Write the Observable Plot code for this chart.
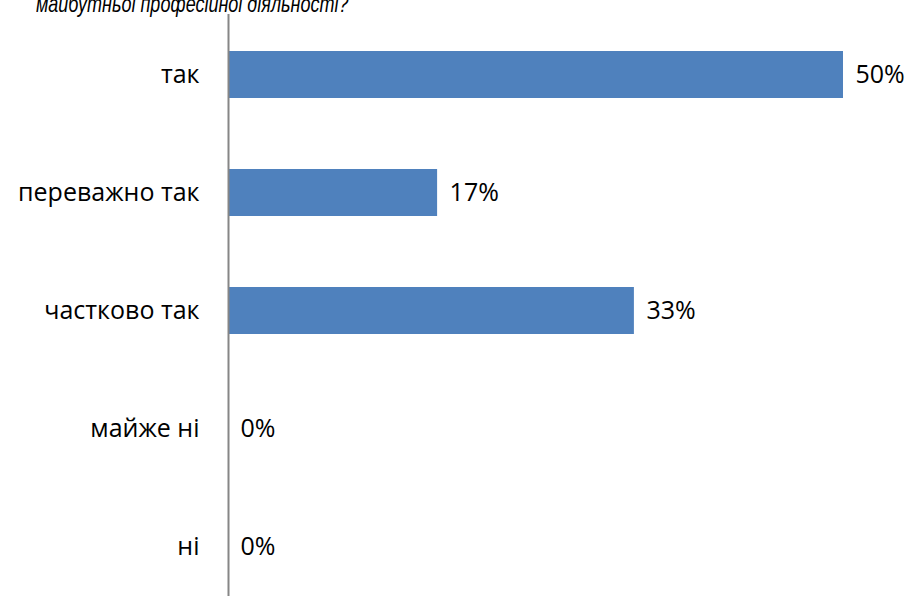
<!DOCTYPE html>
<html><head><meta charset="utf-8">
<script src="https://cdn.jsdelivr.net/npm/d3@7"></script>
<script src="https://cdn.jsdelivr.net/npm/@observablehq/plot@0.6"></script>
<style>
body{margin:0;background:#fff;overflow:hidden;}
#wrap{position:relative;width:913px;height:596px;}
#title{position:absolute;z-index:2;left:36px;top:-10px;line-height:24px;font:italic 24px "Liberation Sans",Arial,sans-serif;color:#000;white-space:nowrap;transform:scaleX(0.75);transform-origin:left top;}
</style></head>
<body><div id="wrap"><div id="title">майбутньої професійної діяльності?</div></div>
<script>
const categories = ["так","переважно так","частково так","майже ні","ні"];
const values = [0.50, 0.17, 0.33, 0, 0];
const valueLabels = ["50%","17%","33%","0%","0%"];
const data = categories.map((c,i)=>({cat:c, v:values[i], label:valueLabels[i]}));
const chart = Plot.plot({
  width: 913, height: 596,
  marginLeft: 228, marginRight: 70, marginTop: 14, marginBottom: 0,
  style: {fontFamily: "'Open Sans', sans-serif", background: "#fff"},
  x: {domain: [0, 0.5], range: [228, 843], axis: null},
  y: {domain: categories, range: [14, 607], paddingInner: 0.6, paddingOuter: 0.3, axis: null},
  marks: [
    Plot.barX(data, {x: "v", y: "cat", fill: "#4f81bd"}),
    Plot.ruleX([0], {stroke: "#868686", strokeWidth: 2}),
    Plot.text(data, {x: 0, y: "cat", text: "cat", dx: -29, textAnchor: "end", fontSize: 25, fill: "#000"}),
    Plot.text(data, {x: "v", y: "cat", text: "label", dx: 12, textAnchor: "start", fontSize: 25, fill: "#000"})
  ]
});
document.getElementById("wrap").appendChild(chart);
chart.style.position="absolute";chart.style.left="0";chart.style.top="0";
</script></body></html>
